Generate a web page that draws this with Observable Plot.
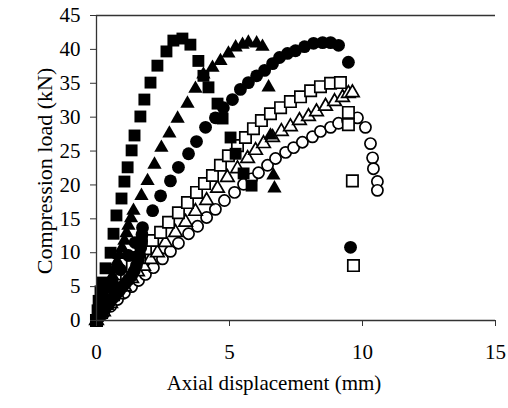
<!DOCTYPE html>
<html><head><meta charset="utf-8">
<script src="https://cdn.jsdelivr.net/npm/d3@7"></script>
<script src="https://cdn.jsdelivr.net/npm/@observablehq/plot@0.6"></script>
<style>body{margin:0;background:#fff}</style>
</head><body><div id="chart"></div>
<script>
// filled squares
const fsX = [0,0.04,0.08,0.15,0.23,0.34,0.53,0.64,0.75,0.94,1.05,1.17,1.32,1.43,1.65,1.80,2.03,2.29,2.63,2.89,3.23,3.53,3.83,4.02,4.21,4.55,4.74,5.04,5.23,5.53,5.83];
const fsY = [0,1.5,2.9,4.3,5.6,7.7,10.0,12.8,15.5,18.0,20.5,22.6,25.1,27.3,30.1,32.6,35.1,37.6,39.7,41.3,41.6,40.7,38.3,36.1,34.4,32.0,29.8,27.0,24.6,21.7,19.9];
// filled triangles
const ftX = [0,0.11,0.20,0.30,0.40,0.49,0.60,0.68,0.78,0.86,0.96,1.05,1.13,1.20,1.30,1.39,1.69,1.92,2.18,2.44,2.74,3.05,3.42,3.72,4.02,4.36,4.66,4.96,5.23,5.49,5.71,6.02,6.24,6.47,6.54,6.65,6.69];
const ftY = [0,2.1,2.8,3.8,4.6,5.6,6.6,7.7,8.7,9.7,10.7,11.8,12.9,14.0,15.1,16.2,18.4,20.6,23.0,25.5,27.6,29.8,32.0,34.2,36.3,37.3,38.3,39.4,40.3,40.7,41.0,40.9,40.4,34.4,27.3,21.4,19.5];
// filled circles
const fcX = [0,0.10,0.19,0.30,0.41,0.52,0.60,0.64,0.75,0.86,0.90,0.98,1.09,1.20,1.20,1.32,1.42,1.45,1.50,1.57,1.62,1.66,1.69,1.71,1.73,2.11,2.41,2.78,3.08,3.46,3.76,4.10,4.47,4.77,5.11,5.41,5.71,6.02,6.32,6.62,6.88,7.18,7.48,7.82,8.16,8.50,8.80,9.10,9.47,9.55];
const fcY = [0,0.5,1.0,1.6,2.2,2.8,5.5,3.4,3.9,4.4,7.5,5.0,5.5,6.0,9.6,6.6,7.3,11.5,8.1,8.9,9.7,10.7,11.7,12.7,13.7,16.2,18.4,20.6,22.6,24.6,26.4,28.5,29.9,31.4,32.6,34.1,35.1,36.1,36.9,37.9,38.8,39.4,39.8,40.4,40.9,41.0,41.0,40.6,38.1,10.8];
// open squares
const osX = [0,0.19,0.41,0.64,0.86,1.13,1.35,1.62,1.84,2.11,2.41,2.71,3.08,3.42,3.76,4.06,4.36,4.66,4.96,5.30,5.60,5.90,6.20,6.54,6.92,7.29,7.67,8.05,8.42,8.80,9.17,9.47,9.47,9.62,9.66];
const osY = [0,1.2,2.5,3.8,5.2,6.6,8.0,9.3,10.6,11.8,13.0,14.5,15.9,17.4,18.9,20.2,21.4,22.9,24.3,25.8,27.0,28.3,29.5,30.5,31.4,32.3,33.0,33.9,34.5,35.0,35.1,30.7,28.9,20.6,8.1];
// open triangles
const otX = [0,0.26,0.53,0.79,1.05,1.32,1.54,1.77,2.03,2.29,2.59,2.97,3.35,3.72,4.14,4.55,4.92,5.30,5.68,5.98,6.28,6.62,6.95,7.29,7.63,7.97,8.27,8.61,8.95,9.25,9.47,9.62];
const otY = [0,1.3,2.5,3.8,5.0,6.2,7.2,8.0,9.0,10.0,11.5,13.0,14.5,16.1,17.7,19.5,21.1,22.4,23.9,25.1,26.1,27.0,27.9,28.6,29.5,30.1,30.8,31.6,32.3,32.9,33.5,33.6];
// open circles
const ocX = [0,0.26,0.53,0.79,1.05,1.32,1.58,1.84,2.14,2.48,2.78,3.08,3.46,3.80,4.14,4.47,4.81,5.19,5.53,5.83,6.09,6.43,6.73,7.11,7.41,7.74,8.12,8.42,8.80,9.10,9.44,9.81,10.11,10.30,10.38,10.41,10.56,10.56];
const ocY = [0,1.0,2.1,3.1,4.1,5.0,5.9,6.8,7.8,9.1,10.2,11.4,12.8,13.9,15.2,16.4,17.7,18.9,20.1,20.9,21.8,22.9,23.9,24.8,25.5,26.3,27.1,27.9,28.5,29.1,29.5,29.9,28.5,26.1,24.0,22.4,20.5,19.2];

const xTicks = [0,5,10,15];
const yTicks = [0,5,10,15,20,25,30,35,40,45];
const xLabel = "Axial displacement (mm)";
const yLabel = "Compression load (kN)";

const pts = (xs, ys) => xs.map((x, i) => ({x, y: ys[i]}));
const axisColor = "#333";

const openStyle = {fill: "white", stroke: "black", strokeWidth: 1.7};
const filledStyle = {fill: "black", stroke: "none"};

const chart = Plot.plot({
  width: 508,
  height: 408,
  marginLeft: 96,
  marginRight: 13,
  marginTop: 15,
  marginBottom: 88,
  style: {fontFamily: "'Liberation Serif', 'Times New Roman', serif", fontSize: "21px", color: "black", background: "white"},
  x: {domain: [0, 15]},
  y: {domain: [0, 45]},
  marks: [
    Plot.dot(pts(ocX, ocY), {x: "x", y: "y", symbol: "circle", r: 5.6, ...openStyle}),
    Plot.dot(pts(otX, otY), {x: "x", y: "y", symbol: "triangle", r: 5.0, ...openStyle}),
    Plot.dot(pts(osX, osY), {x: "x", y: "y", symbol: "square", r: 6.4, ...openStyle}),
    Plot.dot(pts(fcX, fcY), {x: "x", y: "y", symbol: "circle", r: 6.4, ...filledStyle}),
    Plot.dot(pts(ftX, ftY), {x: "x", y: "y", symbol: "triangle", r: 5.3, ...filledStyle}),
    Plot.dot(pts(fsX, fsY), {x: "x", y: "y", symbol: "square", r: 6.7, ...filledStyle}),
    Plot.ruleY([0], {stroke: axisColor, strokeWidth: 1.3}),
    Plot.ruleY([45], {stroke: axisColor, strokeWidth: 1.3}),
    Plot.ruleX([0], {stroke: axisColor, strokeWidth: 1.3}),
    Plot.axisX({ticks: xTicks, tickSize: 6, tickPadding: 18, label: null, stroke: axisColor, fill: "black", tickFormat: d => String(d)}),
    Plot.axisY({ticks: yTicks, tickSize: 6, tickPadding: 10, label: null, stroke: axisColor, fill: "black", tickFormat: d => String(d)}),
    Plot.text([xLabel], {frameAnchor: "bottom", dy: 69, dx: -22, fill: "black", text: d => d}),
    Plot.text([yLabel], {frameAnchor: "left", dx: -52, dy: 3, rotate: -90, textAnchor: "middle", fontSize: 22, fill: "black", text: d => d})
  ]
});
document.getElementById("chart").appendChild(chart);
</script></body></html>
